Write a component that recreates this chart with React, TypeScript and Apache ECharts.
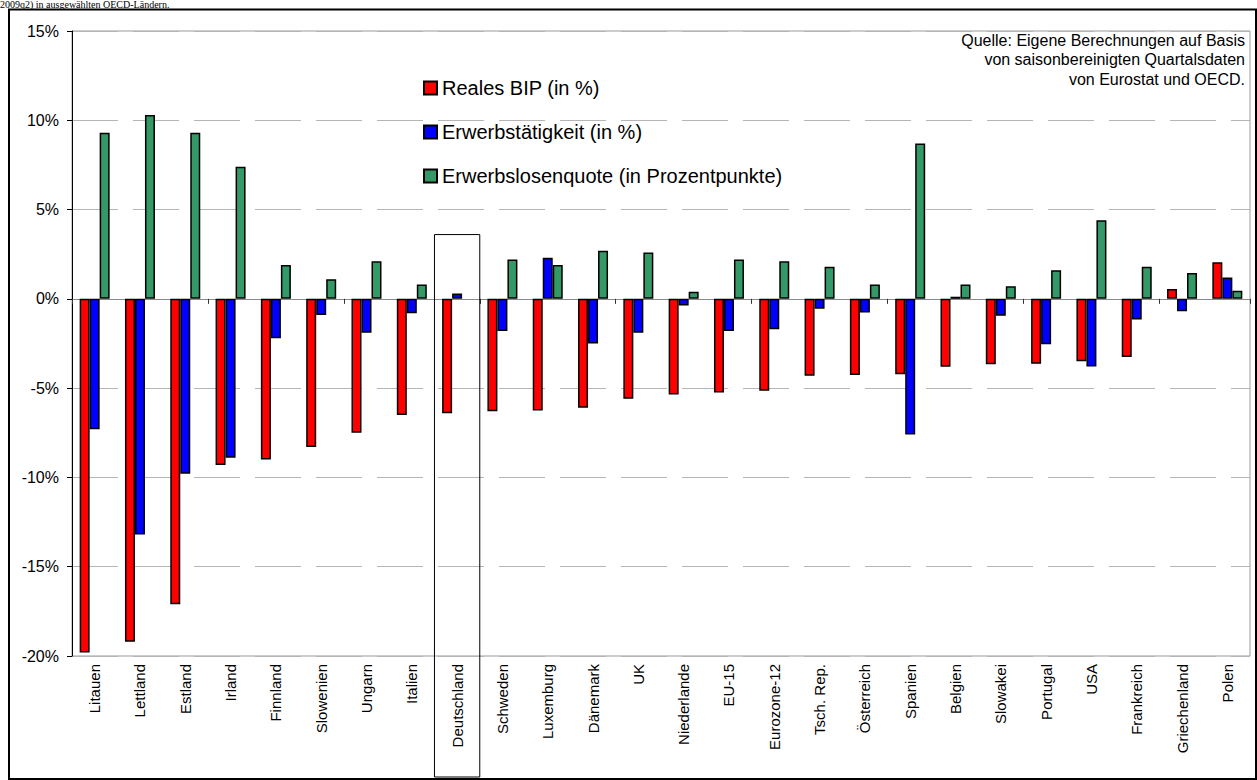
import React, { useEffect, useRef } from "react";
import * as echarts from "echarts";

const categories = [
  "Litauen", "Lettland", "Estland", "Irland", "Finnland", "Slowenien", "Ungarn", "Italien",
  "Deutschland", "Schweden", "Luxemburg", "Dänemark", "UK", "Niederlande", "EU-15",
  "Eurozone-12", "Tsch. Rep.", "Österreich", "Spanien", "Belgien", "Slowakei", "Portugal",
  "USA", "Frankreich", "Griechenland", "Polen",
];
const realGDP = [
  -19.8, -19.2, -17.1, -9.3, -9.0, -8.3, -7.5, -6.5, -6.4, -6.3, -6.25, -6.1, -5.6, -5.35,
  -5.25, -5.15, -4.3, -4.27, -4.22, -3.8, -3.66, -3.64, -3.49, -3.25, 0.55, 2.05,
];
const employment = [
  -7.3, -13.2, -9.8, -8.9, -2.2, -0.9, -1.9, -0.8, 0.3, -1.8, 2.3, -2.5, -1.9, -0.37, -1.8,
  -1.7, -0.55, -0.76, -7.6, 0.12, -0.95, -2.54, -3.79, -1.16, -0.7, 1.2,
];
const unemployment = [
  9.3, 10.3, 9.3, 7.4, 1.9, 1.1, 2.1, 0.8, null, 2.2, 1.9, 2.7, 2.6, 0.4, 2.2, 2.1, 1.8, 0.8,
  8.7, 0.8, 0.7, 1.6, 4.4, 1.8, 1.45, 0.45,
];
const seriesNames = [
  "Reales BIP (in %)",
  "Erwerbstätigkeit (in %)",
  "Erwerbslosenquote (in Prozentpunkte)",
];
const seriesColors = ["#ff0000", "#0000ff", "#339966"];
const yTicks = { min: -20, max: 15, interval: 5 };
const highlighted = "Deutschland";
const highlightTop = 3.6;
const titleText = "2009q2) in ausgewählten OECD-Ländern.";
const sourceText = "Quelle: Eigene Berechnungen auf Basis\nvon saisonbereinigten Quartalsdaten\nvon Eurostat und OECD.";

const FONT = "Arial, 'Liberation Sans', sans-serif";

export default function App() {
  const ref = useRef<HTMLDivElement>(null);
  useEffect(() => {
    if (!ref.current) return;
    const chart = echarts.init(ref.current, undefined, { renderer: "svg" });
    const values = [realGDP, employment, unemployment];
    chart.setOption({
      animation: false,
      backgroundColor: "#ffffff",
      grid: {
        left: 72,
        top: 31,
        right: 7,
        bottom: 124,
        show: true,
        borderColor: "#9a9a9a",
        borderWidth: 1,
        backgroundColor: "transparent",
      },
      legend: {
        orient: "vertical",
        left: 418,
        top: 73,
        itemWidth: 13,
        itemHeight: 13,
        itemGap: 24,
        selectedMode: false,
        icon: "rect",
        data: seriesNames,
        textStyle: { fontSize: 20, color: "#000", fontFamily: FONT, lineHeight: 20 },
      },
      xAxis: [
        {
          type: "category",
          data: categories,
          position: "bottom",
          axisLine: { show: false, onZero: false },
          axisTick: { show: false },
          axisLabel: {
            interval: 0,
            rotate: 90,
            margin: 8,
            fontSize: 15,
            color: "#000",
            fontFamily: FONT,
          },
          splitLine: { show: false },
        },
        {
          type: "category",
          data: categories,
          position: "bottom",
          axisLine: { show: true, onZero: true, onZeroAxisIndex: 0, lineStyle: { color: "#8a8a8a", width: 1 } },
          axisTick: { show: true, length: 5, lineStyle: { color: "#333" } },
          axisLabel: { show: false },
          splitLine: { show: false },
        },
      ],
      yAxis: {
        type: "value",
        min: yTicks.min,
        max: yTicks.max,
        interval: yTicks.interval,
        axisLine: { show: true, lineStyle: { color: "#000", width: 1 } },
        axisTick: { show: true, length: 5, lineStyle: { color: "#000" } },
        axisLabel: {
          formatter: "{value}%",
          fontSize: 16,
          color: "#000",
          fontFamily: FONT,
          margin: 13,
        },
        splitLine: { show: true, lineStyle: { color: "#b5b5b5", width: 1, type: [46, 15] } },
      },
      series: seriesNames.map((name, i) => ({
        name,
        type: "bar",
        xAxisIndex: 0,
        yAxisIndex: 0,
        data: values[i],
        barWidth: 10,
        barGap: "0%",
        itemStyle: { color: seriesColors[i], borderColor: "#000", borderWidth: 1.5 },
      })),
    });

    const p = chart.convertToPixel({ xAxisIndex: 0, yAxisIndex: 0 }, [highlighted, highlightTop]) as number[];
    const idx = categories.indexOf(highlighted);
    const q = chart.convertToPixel({ xAxisIndex: 0, yAxisIndex: 0 }, [categories[idx + 1], highlightTop]) as number[];
    const w = q[0] - p[0];
    const H = chart.getHeight();
    const W = chart.getWidth();

    chart.setOption({
      graphic: [
        {
          type: "text",
          z: 1,
          x: 0,
          y: 0,
          style: {
            text: titleText,
            fontSize: 10,
            lineHeight: 9,
            fontFamily: "'Liberation Serif', 'Times New Roman', serif",
            fill: "#000",
            verticalAlign: "top",
          },
        },
        {
          type: "rect",
          z: 10,
          shape: { x: 9, y: 9.5, width: W - 10, height: H - 10.5 },
          style: { fill: "none", stroke: "#000", lineWidth: 2 },
        },
        {
          type: "rect",
          z: 10,
          shape: { x: p[0] - w / 2, y: p[1], width: w, height: H - 3 - p[1] },
          style: { fill: "none", stroke: "#000", lineWidth: 1 },
        },
        {
          type: "text",
          z: 10,
          x: 1245,
          y: 31,
          style: {
            text: sourceText,
            fontSize: 16,
            lineHeight: 19.3,
            fontFamily: FONT,
            fill: "#000",
            align: "right",
            verticalAlign: "top",
          },
        },
      ],
    });

    return () => chart.dispose();
  }, []);
  return (
    <div
      ref={ref}
      style={{ position: "fixed", left: 0, top: 0, width: 1257, height: 780 }}
    />
  );
}
